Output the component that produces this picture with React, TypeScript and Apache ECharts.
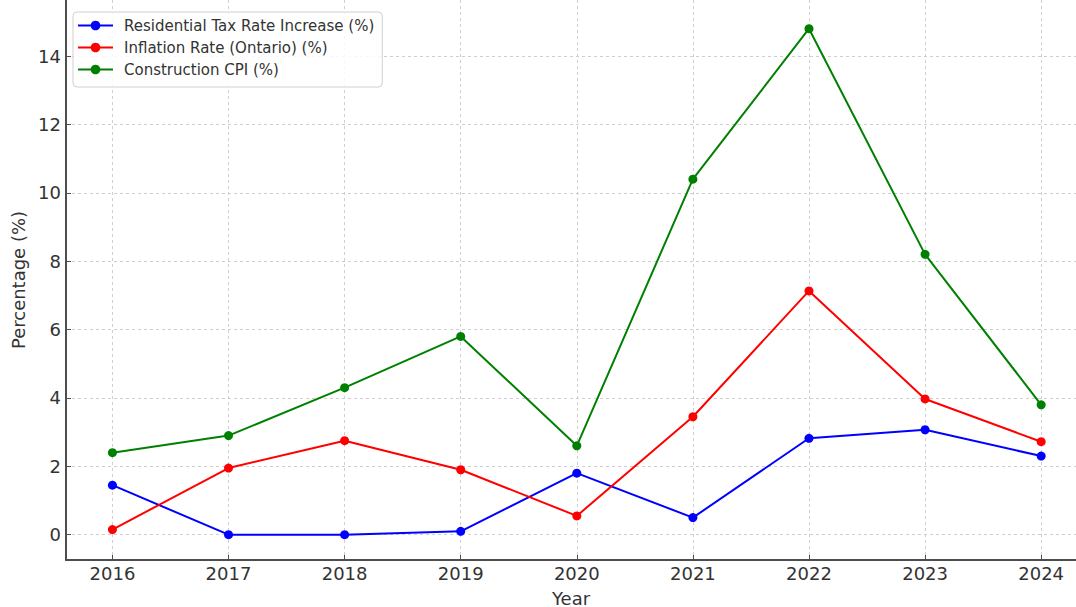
import React, { useEffect, useRef } from "react";
import * as echarts from "echarts";

const years = [2016, 2017, 2018, 2019, 2020, 2021, 2022, 2023, 2024];
const residentialTax = [1.45, 0.0, 0.0, 0.1, 1.8, 0.5, 2.82, 3.07, 2.3];
const inflationOntario = [0.15, 1.95, 2.75, 1.9, 0.55, 3.45, 7.13, 3.97, 2.72];
const constructionCPI = [2.4, 2.9, 4.3, 5.8, 2.6, 10.4, 14.8, 8.2, 3.8];
const seriesNames = [
  "Residential Tax Rate Increase (%)",
  "Inflation Rate (Ontario) (%)",
  "Construction CPI (%)",
];
const seriesColors = ["#0000ff", "#ff0000", "#008000"];
const yTicks = [0, 2, 4, 6, 8, 10, 12, 14];

const FONT = "DejaVu Sans";

export default function App() {
  const ref = useRef<HTMLDivElement>(null);
  useEffect(() => {
    if (!ref.current) return;
    const chart = echarts.init(ref.current, undefined, { renderer: "svg" });
    const all = [residentialTax, inflationOntario, constructionCPI];
    const mk = (vals: number[], i: number) => ({
      name: seriesNames[i],
      type: "line",
      data: years.map((y, k) => [y, vals[k]]),
      symbol: "circle",
      symbolSize: 9,
      showSymbol: true,
      lineStyle: { color: seriesColors[i], width: 2 },
      itemStyle: { color: seriesColors[i] },
      emphasis: { disabled: true },
      z: 3,
    });
    chart.setOption({
      animation: false,
      backgroundColor: "#ffffff",
      textStyle: { fontFamily: FONT },
      grid: { left: 66, right: 0, top: 0, bottom: 47, containLabel: false, outerBoundsMode: "none" },
      legend: {
        orient: "vertical",
        left: 73,
        top: 12,
        padding: [6, 8, 10, 4],
        itemGap: 7,
        itemWidth: 35,
        itemHeight: 12,
        backgroundColor: "rgba(255,255,255,0.85)",
        borderColor: "#d0d0d0",
        borderWidth: 1,
        borderRadius: 4,
        textStyle: { fontFamily: FONT, fontSize: 15, color: "#333", padding: [0, 0, 0, 6] },
        data: seriesNames,
      },
      xAxis: {
        type: "value",
        min: 2015.6,
        max: 2024.3,
        minInterval: 1,
        maxInterval: 1,
        name: "Year",
        nameLocation: "middle",
        nameGap: 29,
        nameTextStyle: { fontFamily: FONT, fontSize: 18, color: "#333" },
        axisLine: { show: true, onZero: false, lineStyle: { color: "#4d4d4d", width: 2 } },
        axisTick: { show: true, inside: true, length: 5, lineStyle: { color: "#4d4d4d", width: 1 } },
        axisLabel: {
          fontFamily: FONT,
          fontSize: 18,
          color: "#333",
          margin: 4,
          showMinLabel: false,
          showMaxLabel: false,
          formatter: (v: number) => (years.includes(v) ? String(v) : ""),
        },
        splitLine: {
          show: true,
          showMinLine: false,
          showMaxLine: false,
          lineStyle: { color: "#cfcfcf", type: [3, 3], width: 1 },
        },
      },
      yAxis: {
        type: "value",
        min: -0.74,
        max: 15.64,
        minInterval: 2,
        maxInterval: 2,
        name: "Percentage (%)",
        nameLocation: "middle",
        nameGap: 36,
        nameTextStyle: { fontFamily: FONT, fontSize: 18, color: "#333" },
        axisLine: { show: true, onZero: false, lineStyle: { color: "#4d4d4d", width: 2 } },
        axisTick: { show: true, inside: true, length: 5, lineStyle: { color: "#4d4d4d", width: 1 } },
        axisLabel: {
          fontFamily: FONT,
          fontSize: 18,
          color: "#333",
          margin: 5,
          showMinLabel: false,
          showMaxLabel: false,
          formatter: (v: number) => (yTicks.includes(v) ? String(v) : ""),
        },
        splitLine: {
          show: true,
          showMinLine: false,
          showMaxLine: false,
          lineStyle: { color: "#cfcfcf", type: [3, 3], width: 1 },
        },
      },
      series: all.map((v, i) => mk(v, i)),
    });
    return () => chart.dispose();
  }, []);
  return (
    <div
      ref={ref}
      style={{ position: "fixed", left: 0, top: 0, width: 1076, height: 607, background: "#fff" }}
    />
  );
}
